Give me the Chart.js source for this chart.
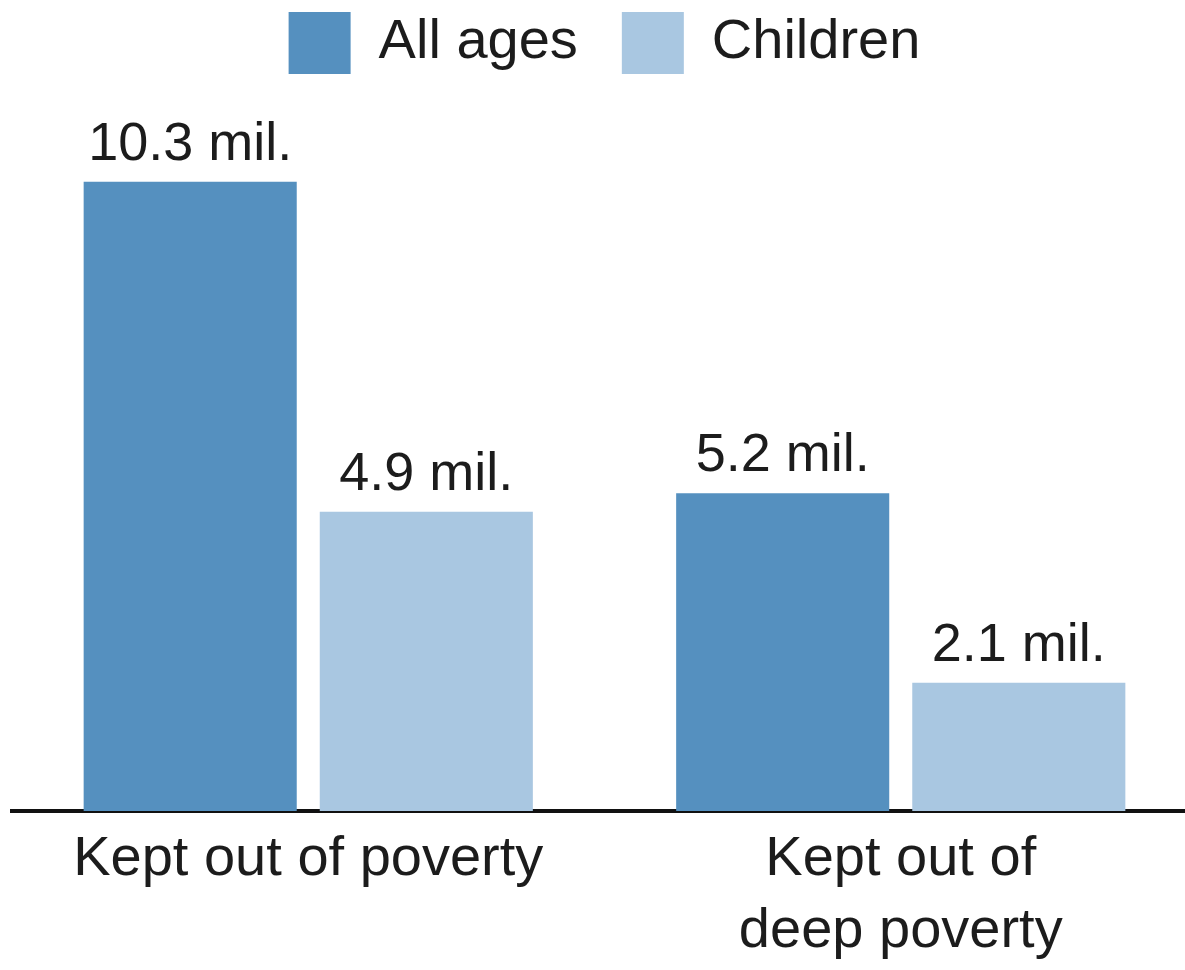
<!DOCTYPE html>
<html><head><meta charset="utf-8">
<script src="https://cdn.jsdelivr.net/npm/chart.js@4/dist/chart.umd.min.js"></script>
<style>html,body{margin:0;padding:0;background:#fff;overflow:hidden;} canvas{display:block;}</style>
</head><body>
<canvas id="c" width="1200" height="970"></canvas>
<script>
const categories = [["Kept out of poverty"], ["Kept out of", "deep poverty"]];
const seriesNames = ["All ages", "Children"];
const allAges = [10.3, 5.2];
const children = [4.9, 2.1];
const unitSuffix = " mil.";

const FONT = "'Liberation Sans', Arial, sans-serif";
const colors = ['#5590BF', '#A9C7E1'];
const textColor = '#1c1c1c';

const valueLabels = {
  id: 'valueLabels',
  afterDatasetsDraw(chart) {
    const ctx = chart.ctx;
    ctx.save();
    ctx.font = `400 54px ${FONT}`;
    ctx.fillStyle = textColor;
    ctx.textAlign = 'center';
    ctx.textBaseline = 'alphabetic';
    chart.data.datasets.forEach((ds, i) => {
      const meta = chart.getDatasetMeta(i);
      meta.data.forEach((bar, j) => {
        ctx.fillText(ds.data[j].toFixed(1) + unitSuffix, bar.x, bar.y - 22);
      });
    });
    ctx.restore();
  }
};

Chart.defaults.font.family = FONT;
Chart.defaults.color = textColor;

new Chart(document.getElementById('c'), {
  type: 'bar',
  data: {
    labels: categories,
    datasets: [
      { label: seriesNames[0], data: allAges, backgroundColor: colors[0], categoryPercentage: 0.797, barPercentage: 0.9025 },
      { label: seriesNames[1], data: children, backgroundColor: colors[1], categoryPercentage: 0.797, barPercentage: 0.9025 }
    ]
  },
  options: {
    responsive: false,
    animation: false,
    devicePixelRatio: 1,
    layout: { padding: { top: -32, left: 12, right: 3, bottom: -11 } },
    plugins: {
      legend: {
        position: 'top',
        labels: { boxWidth: 62, boxHeight: 62, padding: 44, font: { size: 56 }, color: textColor }
      },
      tooltip: { enabled: false }
    },
    scales: {
      x: {
        grid: { display: false, drawTicks: false },
        border: { display: true, color: '#111', width: 4 },
        ticks: { font: { size: 56, lineHeight: 1.286 }, padding: 13, color: textColor }
      },
      y: { display: false, min: 0, max: 11.9 }
    }
  },
  plugins: [valueLabels]
});
</script>
</body></html>
